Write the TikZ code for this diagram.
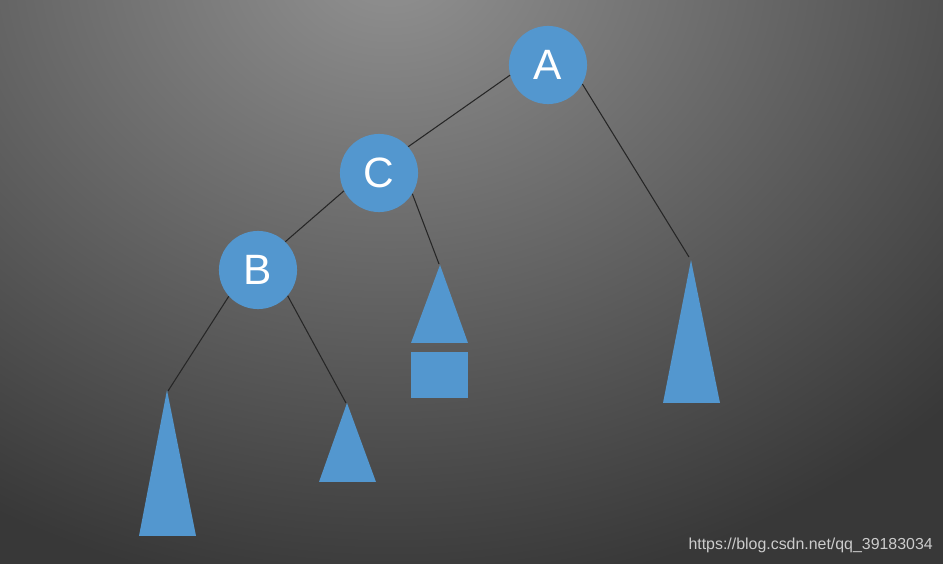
\documentclass[tikz,border=0pt]{standalone}
\usepackage{fontspec}
\setmainfont{Liberation Sans}
\definecolor{keyblue}{RGB}{83,151,207}
\definecolor{bglight}{RGB}{146,146,146}
\definecolor{bgdark}{RGB}{56,56,56}
\tikzset{
    key/.style={circle, fill=keyblue, minimum size=2.07cm, inner sep=0pt, text=white, font=\fontsize{32}{32}\selectfont},
    leaf/.style={fill=keyblue},
    link/.style={draw=black!85, line width=0.8pt}
}
\begin{document}
\begin{tikzpicture}[x=0.0265cm, y=-0.0265cm]
                \useasboundingbox (0,0) rectangle (943,564);
                \begin{scope}
                    \clip (0,0) rectangle (943,564);
                    \fill [bgdark] (0,0) rectangle (943,564);
                    \shade[inner color=bglight, outer color=bgdark] (390,-40) ellipse (780 and 640);
                \end{scope}

                \node[key] (A) at (548,65) {A};
                \node[key] (C) at (379,173) {C};
                \node[key] (B) at (258,270) {B};

                \coordinate (ta) at (689,257);
                \coordinate (tc) at (439,264);
                \coordinate (tbl) at (168,391);
                \coordinate (tbr) at (346,403);

                \draw [link] (A.195) -- (C.42);
                \draw [link] (C.207) -- (B.46);
                \draw [link] (A.-29) -- (ta);
                \draw [link] (C.-32) -- (tc);
                \draw [link] (B.-138) -- (tbl);
                \draw [link] (B.-41) -- (tbr);

                \fill [leaf] (691,260) -- (663,403) -- (720,403) -- cycle;
                \fill [leaf] (440,265) -- (411,343) -- (468,343) -- cycle;
                \fill [leaf] (411,352) rectangle (468,398);
                \fill [leaf] (167,390) -- (139,536) -- (196,536) -- cycle;
                \fill [leaf] (347,403) -- (319,482) -- (376,482) -- cycle;

                \node[anchor=east, text=black!20, font=\fontsize{12}{12}\selectfont, inner sep=0pt] (mark) at (933,545) {https://blog.csdn.net/qq\_39183034};
            \end{tikzpicture}
\end{document}
